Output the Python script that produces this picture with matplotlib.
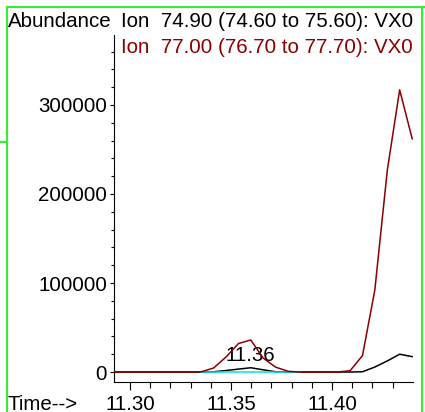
import numpy as np
import matplotlib
matplotlib.use('Agg')
import matplotlib.pyplot as plt
from matplotlib.lines import Line2D

# время удерживания (мин)
time = [11.2923, 11.2984, 11.3046, 11.3107, 11.3169, 11.3230, 11.3291, 11.3353,
        11.3414, 11.3476, 11.3537, 11.3598, 11.3660, 11.3721, 11.3783, 11.3844,
        11.3905, 11.3967, 11.4028, 11.4090, 11.4151, 11.4212, 11.4274, 11.4335,
        11.4397]
# ион 74.90
ion_7490 = [0, 0, 0, 0, 0, 0, 0, 0,
            300, 1700, 3300, 4800, 2500, 300, 0, 0,
            0, 0, 0, 0, 300, 5600, 12500, 20000,
            17300]
# ион 77.00
ion_7700 = [0, 0, 0, 0, 0, 0, 0, 300,
            4500, 17000, 32000, 36000, 15500, 5500, 800, 0,
            0, 0, 0, 1500, 18500, 92000, 227000, 317000,
            262000]
# третий след (нулевой), только около пика
time_zero = [11.3353, 11.3414, 11.3476, 11.3537, 11.3598, 11.3660, 11.3721,
             11.3783, 11.3844]
ion_zero = [0, 0, 0, 0, 0, 0, 0, 0, 0]

title1 = 'Ion  74.90 (74.60 to 75.60): VX0'
title2 = 'Ion  77.00 (76.70 to 77.70): VX0'
peak_label = '11.36'
peak_time = 11.3598

plt.rcParams['font.family'] = ['Liberation Sans', 'DejaVu Sans']
fs = 14.8

fig = plt.figure(figsize=(4.25, 4.12), dpi=100)
ax = fig.add_axes([114/425, 30/412, 299/425, 347/412])

ax.plot(time, ion_7490, color='black', lw=1.1, zorder=2)
ax.plot(time_zero, ion_zero, color='#00e5e5', lw=1.1, zorder=3)
ax.plot(time, ion_7700, color='#8b0000', lw=1.1, zorder=4)

ax.text(peak_time, 7500, peak_label, fontsize=fs, ha='center', va='bottom')

ax.set_xlim(11.2921, 11.4401)
ax.set_ylim(-11200, 378600)

ax.spines['top'].set_visible(False)
ax.spines['right'].set_visible(False)

ax.set_xticks([11.30, 11.35, 11.40])
ax.set_xticklabels(['11.30', '11.35', '11.40'])
ax.set_xticks([11.31, 11.32, 11.33, 11.34, 11.36, 11.37, 11.38, 11.39,
               11.41, 11.42, 11.43], minor=True)
ax.set_yticks([0, 100000, 200000, 300000])
ax.set_yticklabels(['0', '100000', '200000', '300000'])
ax.set_yticks([20000, 40000, 60000, 80000, 120000, 140000, 160000, 180000,
               220000, 240000, 260000, 280000, 320000, 340000, 360000], minor=True)

ax.tick_params(axis='x', which='major', length=6, width=0.8, labelsize=fs, pad=3)
ax.tick_params(axis='x', which='minor', length=4.5, width=0.8)
ax.tick_params(axis='y', which='major', length=3, width=0.8, labelsize=fs, pad=2)
ax.tick_params(axis='y', which='minor', length=2, width=0.8)

# рамка
green = '#33ee33'
fig.add_artist(Line2D([7/425, 7/425], [0, 1 - 7/412], transform=fig.transFigure, color=green, lw=1.5, zorder=0))
fig.add_artist(Line2D([7/425, 1], [1 - 7/412, 1 - 7/412], transform=fig.transFigure, color=green, lw=1.5, zorder=0))
fig.add_artist(Line2D([422/425, 422/425], [0, 1 - 7/412], transform=fig.transFigure, color=green, lw=1.5, zorder=0))
fig.add_artist(Line2D([0, 7/425], [1 - 142/412, 1 - 142/412], transform=fig.transFigure, color=green, lw=1.5, zorder=0))

fig.text(8/425, 1 - 27/412, 'Abundance', fontsize=fs, va='baseline', ha='left')
fig.text(121/425, 1 - 27/412, title1, fontsize=fs, va='baseline', ha='left', color='black')
fig.text(121/425, 1 - 53/412, title2, fontsize=fs, va='baseline', ha='left', color='#8b0000')
fig.text(8/425, 1 - 410/412, 'Time-->', fontsize=fs, va='baseline', ha='left')

fig.savefig('out.png', dpi=100)
